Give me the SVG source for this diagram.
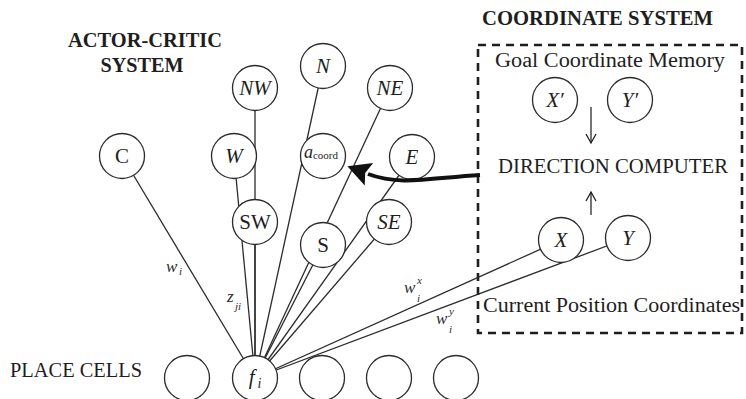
<svg xmlns="http://www.w3.org/2000/svg" width="746" height="399" viewBox="0 0 746 399">
  <style>
    .bg { fill: #ffffff; }
    .n { fill: #ffffff; stroke: #2b2b2b; stroke-width: 1.3; }
    .ln { fill: none; stroke: #2b2b2b; stroke-width: 1.3; }
    .lbl { font-family: "Liberation Serif", "DejaVu Serif", serif; font-size: 21px; fill: #1e1e1e; text-anchor: middle; }
    .it { font-style: italic; }
    .head { font-family: "Liberation Serif", "DejaVu Serif", serif; font-weight: bold; font-size: 20px; fill: #1e1e1e; }
    .txt { font-family: "Liberation Serif", "DejaVu Serif", serif; font-size: 20px; fill: #1e1e1e; }
    .wt { font-family: "Liberation Serif", "DejaVu Serif", serif; font-style: italic; font-size: 17px; fill: #2b2b2b; }
    .ws { font-family: "Liberation Serif", "DejaVu Serif", serif; font-style: italic; font-size: 11px; fill: #2b2b2b; }
    .box { fill: none; stroke: #1e1e1e; stroke-width: 2.6; stroke-dasharray: 8 6; }
  </style>
  <defs>
    <marker id="bigHead" markerUnits="userSpaceOnUse" markerWidth="26" markerHeight="28" refX="1" refY="13" orient="auto">
      <path d="M0,1 L23,13 L0,25 L4,13 Z" fill="#111111"/>
    </marker>
    <marker id="openHead" markerUnits="userSpaceOnUse" markerWidth="14" markerHeight="14" refX="10" refY="7" orient="auto">
      <path d="M1,2 L10,7 L1,12" fill="none" stroke="#1e1e1e" stroke-width="1.3"/>
    </marker>
  </defs>

  <rect class="bg" x="0" y="0" width="746" height="399"/>

  <!-- section titles -->
  <text class="head" x="145" y="47" text-anchor="middle" textLength="154" lengthAdjust="spacingAndGlyphs">ACTOR-CRITIC</text>
  <text class="head" x="142" y="72" text-anchor="middle" textLength="83" lengthAdjust="spacingAndGlyphs">SYSTEM</text>
  <text class="head" x="482" y="25" textLength="231" lengthAdjust="spacingAndGlyphs">COORDINATE SYSTEM</text>
  <text class="txt" x="10" y="377" font-size="19" textLength="132" lengthAdjust="spacingAndGlyphs">PLACE CELLS</text>

  <!-- coordinate system frame -->
  <rect class="box" x="478" y="45" width="264" height="288"/>
  <text class="txt" x="495" y="67" textLength="230" lengthAdjust="spacingAndGlyphs">Goal Coordinate Memory</text>
  <text class="txt" x="498" y="173" textLength="230" lengthAdjust="spacingAndGlyphs">DIRECTION COMPUTER</text>
  <text class="txt" x="483" y="312" textLength="257" lengthAdjust="spacingAndGlyphs">Current Position Coordinates</text>

  <!-- connections from place cell f_i -->
  <g id="connectors">
    <line class="ln" x1="122" y1="156" x2="255" y2="378"/>
    <line class="ln" x1="234" y1="156" x2="255" y2="378"/>
    <line class="ln" x1="255" y1="88" x2="255" y2="378"/>
    <line class="ln" x1="323" y1="66" x2="255" y2="378"/>
    <line class="ln" x1="390" y1="88" x2="255" y2="378"/>
    <line class="ln" x1="412" y1="157" x2="255" y2="378"/>
    <line class="ln" x1="255" y1="222" x2="255" y2="378"/>
    <line class="ln" x1="323" y1="245" x2="255" y2="378"/>
    <line class="ln" x1="389" y1="222" x2="255" y2="378"/>
    <line class="ln" x1="561" y1="240" x2="255" y2="378"/>
    <line class="ln" x1="628" y1="238" x2="255" y2="378"/>
  </g>

  <!-- actor-critic units -->
  <g id="node-C"><circle class="n" cx="122" cy="156" r="22.5"/><text class="lbl" x="122" y="163">C</text></g>
  <g id="node-W"><circle class="n" cx="234" cy="156" r="22.5"/><text class="lbl it" x="234" y="163">W</text></g>
  <g id="node-NW"><circle class="n" cx="255" cy="88" r="22.5"/><text class="lbl it" x="255" y="95">NW</text></g>
  <g id="node-N"><circle class="n" cx="323" cy="66" r="22.5"/><text class="lbl it" x="323" y="73">N</text></g>
  <g id="node-NE"><circle class="n" cx="390" cy="88" r="22.5"/><text class="lbl it" x="390" y="95">NE</text></g>
  <g id="node-acoord"><circle class="n" cx="323" cy="156" r="22.5"/><text class="lbl" x="321" y="158"><tspan class="it" font-size="18">a</tspan><tspan font-size="11" dy="1">coord</tspan></text></g>
  <g id="node-E"><circle class="n" cx="412" cy="157" r="22.5"/><text class="lbl it" x="412" y="164">E</text></g>
  <g id="node-SW"><circle class="n" cx="255" cy="222" r="22.5"/><text class="lbl" x="255" y="229">SW</text></g>
  <g id="node-S"><circle class="n" cx="323" cy="245" r="22.5"/><text class="lbl" x="323" y="252">S</text></g>
  <g id="node-SE"><circle class="n" cx="389" cy="222" r="22.5"/><text class="lbl it" x="389" y="229">SE</text></g>

  <!-- coordinate units -->
  <g id="node-Xg"><circle class="n" cx="555" cy="100" r="22.5"/><text class="lbl it" x="555" y="107">X′</text></g>
  <g id="node-Yg"><circle class="n" cx="630" cy="100" r="22.5"/><text class="lbl it" x="630" y="107">Y′</text></g>
  <g id="node-X"><circle class="n" cx="561" cy="240" r="22.5"/><text class="lbl it" x="561" y="247">X</text></g>
  <g id="node-Y"><circle class="n" cx="628" cy="238" r="22.5"/><text class="lbl it" x="628" y="245">Y</text></g>

  <!-- place cells -->
  <g id="place-1"><circle class="n" cx="187" cy="378" r="22.5"/></g>
  <g id="place-fi"><circle class="n" cx="255" cy="378" r="22.5"/><text class="lbl" x="255" y="384"><tspan class="it">f</tspan><tspan class="it" font-size="14" dx="3" dy="4">i</tspan></text></g>
  <g id="place-3"><circle class="n" cx="322" cy="378" r="22.5"/></g>
  <g id="place-4"><circle class="n" cx="389" cy="378" r="22.5"/></g>
  <g id="place-5"><circle class="n" cx="456" cy="378" r="22.5"/></g>

  <!-- arrows -->
  <g id="arrows">
    <path d="M480,175 C430,178 400,186 368,174" fill="none" stroke="#111111" stroke-width="4" marker-end="url(#bigHead)"/>
    <line class="ln" x1="591" y1="107" x2="591" y2="143" marker-end="url(#openHead)"/>
    <line class="ln" x1="591" y1="215" x2="591" y2="192" marker-end="url(#openHead)"/>
  </g>

  <!-- weight labels -->
  <text class="wt" x="166" y="272">w</text><text class="ws" x="179" y="275">i</text>
  <text class="wt" x="227" y="302">z</text><text class="ws" x="235" y="310">ji</text>
  <text class="wt" x="404" y="293">w</text><text class="ws" x="417" y="284">x</text><text class="ws" x="417" y="302">i</text>
  <text class="wt" x="436" y="324">w</text><text class="ws" x="449" y="315">y</text><text class="ws" x="449" y="333">i</text>
</svg>
